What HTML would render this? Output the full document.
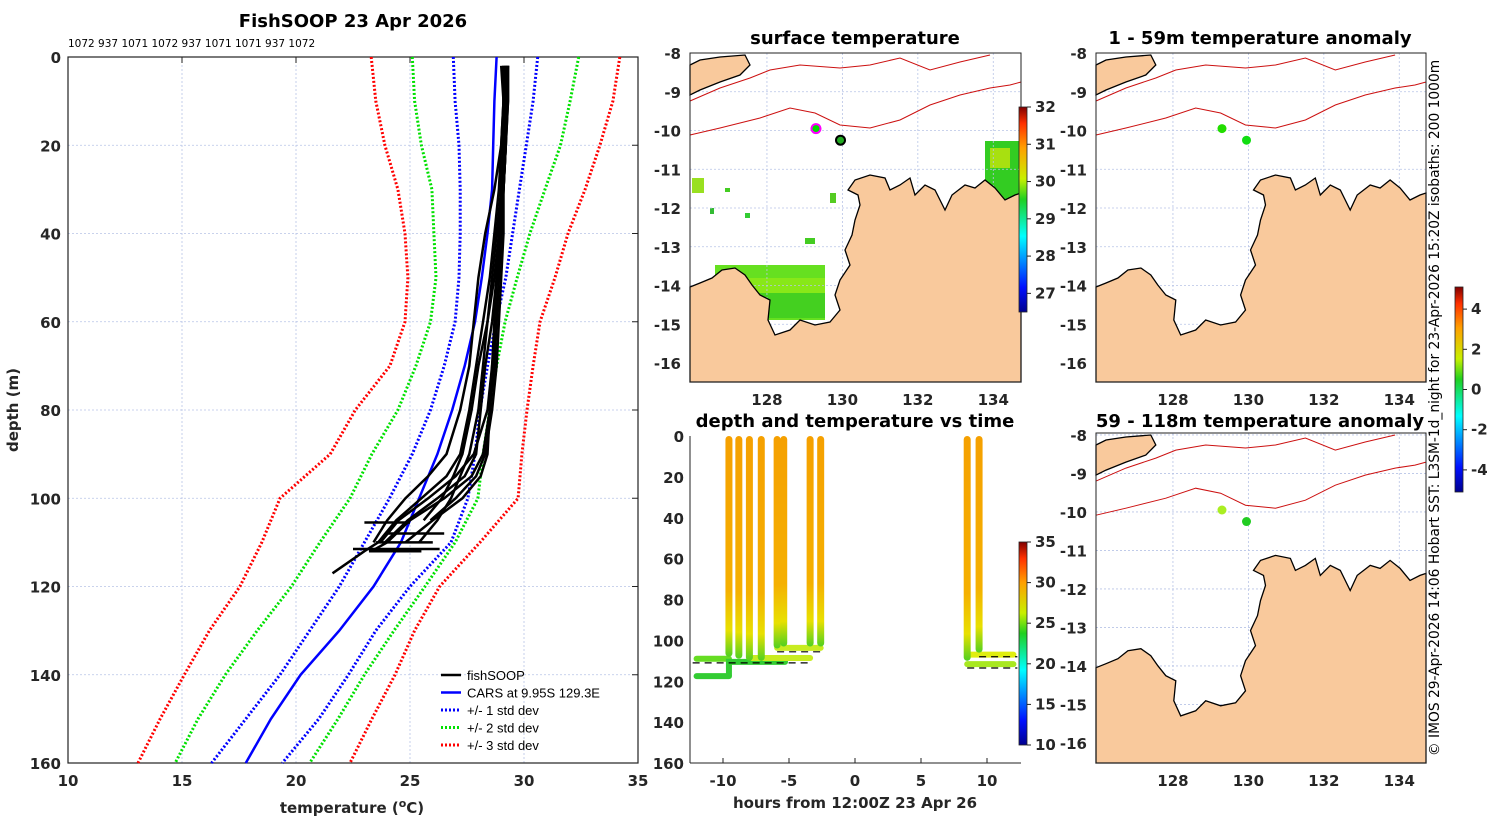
<!DOCTYPE html>
<html><head><meta charset="utf-8"><style>
html,body{margin:0;padding:0;background:#fff;}
svg{display:block;font-family:"DejaVu Sans","Liberation Sans",sans-serif;}
.tk{font-size:15px;font-weight:bold;fill:#262626;}
.ttl{font-size:18px;font-weight:bold;fill:#000;}
.grid{stroke:#b8c4e6;stroke-width:0.8;stroke-dasharray:2,2;}
</style></head><body>
<svg id="fig" width="1500" height="820" viewBox="0 0 1500 820" xmlns="http://www.w3.org/2000/svg">
<defs>
<linearGradient id="jet" x1="0" y1="1" x2="0" y2="0">
<stop offset="0" stop-color="#00008f"/><stop offset="0.12" stop-color="#0010ff"/><stop offset="0.37" stop-color="#00ffff"/><stop offset="0.55" stop-color="#20d020"/><stop offset="0.65" stop-color="#c8f000"/><stop offset="0.8" stop-color="#ffa000"/><stop offset="0.92" stop-color="#ff3000"/><stop offset="1" stop-color="#800000"/></linearGradient>
<linearGradient id="castgrad" x1="0" y1="0" x2="0" y2="1">
<stop offset="0" stop-color="#f5a000"/><stop offset="0.7" stop-color="#f5b000"/><stop offset="0.88" stop-color="#e8e000"/><stop offset="1" stop-color="#50d020"/></linearGradient>
</defs>
<g id="main"></g><g id="maps"></g><g id="timeplot"></g>
<text x="1439" y="408" transform="rotate(-90 1439 408)" text-anchor="middle" font-size="13.8" fill="#000">© IMOS 29-Apr-2026 14:06 Hobart SST: L3SM-1d_night for 23-Apr-2026 15:20Z isobaths: 200  1000m</text>
</svg>
<script>
const NS="http://www.w3.org/2000/svg";
function el(tag,attrs,parent,txt){const e=document.createElementNS(NS,tag);for(const k in attrs)e.setAttribute(k,attrs[k]);if(txt!==undefined)e.textContent=txt;parent.appendChild(e);return e;}

// ---------- main profile chart data ----------
const depthLevels=[0,10,20,30,40,50,60,70,80,90,100,110,120,130,140,150,160];
const carsMean=[28.8,28.7,28.65,28.6,28.4,28.15,27.85,27.4,26.85,26.2,25.4,24.6,23.4,21.9,20.2,18.9,17.8];
const carsLo1=[26.9,26.98,27.15,27.2,27.2,27.15,26.98,26.5,25.9,25.1,24.1,23.0,21.9,20.6,19.3,17.8,16.3];
const carsHi1=[30.6,30.4,30.1,29.8,29.5,29.2,28.77,28.4,28.07,27.85,27.54,26.8,25.0,23.5,22.3,21.0,19.4];
const carsLo2=[25.1,25.2,25.5,25.96,26.05,26.14,25.9,25.26,24.47,23.33,22.37,21.05,19.8,18.3,16.9,15.7,14.7];
const carsHi2=[32.4,32.02,31.6,30.92,30.26,29.7,29.17,28.8,28.5,28.2,27.98,26.98,25.66,24.3,23.0,21.84,20.6];
const carsLo3=[23.3,23.5,23.9,24.47,24.78,24.91,24.78,24.12,22.6,21.5,19.3,18.5,17.54,16.2,15.1,14.04,13.07];
const carsHi3=[34.2,33.9,33.33,32.68,31.93,31.36,30.7,30.4,30.13,29.91,29.74,28.07,26.3,25.2,24.34,23.33,22.37];
const profDepths=[2,10,20,30,40,50,60,70,80,90,95,100,105,110,112,117];
const prof1=[29.2,29.2,29.1,29.0,28.9,28.8,28.7,28.6,28.4,27.8,27.0,25.8,24.5,23.7];
const prof2=[29.3,29.3,29.2,29.1,29.0,28.9,28.8,28.7,28.5,28.2,27.7,26.5,25.0,24.0,23.3];
const prof3=[29.1,29.1,29.0,28.7,28.3,28.0,27.8,27.6,27.2,26.6,25.8,24.8,24.0,23.4];
const prof4=[29.2,29.2,29.2,29.1,28.9,28.7,28.4,28.0,27.7,27.3,26.9,26.4,25.6];
const prof5=[29.0,29.1,29.1,29.0,28.8,28.6,28.4,28.2,28.0,27.6,27.2,26.8,26.2,25.4];
const prof6=[29.3,29.3,29.2,29.1,29.0,28.9,28.8,28.6,28.5,28.4,28.1,27.3,26.0,24.8];
const prof7=[29.2,29.1,29.1,29.0,28.9,28.8,28.6,28.3,28.1,27.9,27.4,26.2,24.9,23.9];
const prof8=[29.3,29.2,29.2,29.1,29.1,29.0,28.9,28.8,28.6,28.3,27.9,27.0,25.9];
const prof9=[29.1,29.1,29.0,28.9,28.7,28.5,28.2,27.9,27.6,27.2,26.6,25.5,24.4,23.6,23.0,21.6];
const bottomDepth=[105.5,108,110,111.5,112];
const bottomT0=[23.0,24.0,23.5,22.5,23.2];
const bottomT1=[25.0,26.5,26.0,26.3,25.5];
const xTicksMain=[10,15,20,25,30,35];
const yTicksMain=[0,20,40,60,80,100,120,140,160];

const M={x0:68,x1:638,y0:57,y1:763,t0:10,t1:35,d0:0,d1:160};
const mx=t=>M.x0+(t-M.t0)/(M.t1-M.t0)*(M.x1-M.x0);
const my=d=>M.y0+(d-M.d0)/(M.d1-M.d0)*(M.y1-M.y0);
const g=document.getElementById('main');
let e;
e=el('text',{x:353,y:27,'text-anchor':'middle',class:'ttl'},g,'FishSOOP 23 Apr 2026');


e=el('text',{x:68,y:47,'font-size':'10.5'},g,'1072 937 1071 1072 937 1071 1071 937 1072');


xTicksMain.forEach(t=>{
  if(t>M.t0&&t<M.t1){el('line',{x1:mx(t),x2:mx(t),y1:M.y0,y2:M.y1,class:'grid'},g);}
  el('line',{x1:mx(t),x2:mx(t),y1:M.y0,y2:M.y0+6,stroke:'#222'},g);
  e=el('text',{x:mx(t),y:M.y1+23,'text-anchor':'middle',class:'tk','font-size':'16.5'},g,String(t));
  
  
});
yTicksMain.forEach(d=>{
  if(d>M.d0&&d<M.d1){el('line',{x1:M.x0,x2:M.x1,y1:my(d),y2:my(d),class:'grid'},g);}
  el('line',{x1:M.x1-6,x2:M.x1,y1:my(d),y2:my(d),stroke:'#222'},g);
  e=el('text',{x:M.x0-7,y:my(d)+6,'text-anchor':'end',class:'tk','font-size':'16.5'},g,String(d));
  
  
});
e=el('rect',{x:M.x0,y:M.y0,width:M.x1-M.x0,height:M.y1-M.y0,fill:'none',stroke:'#222','stroke-width':1.2},g);


e=el('text',{x:352,y:813,'text-anchor':'middle',class:'tk','font-size':'17.5'},g,'');
e.innerHTML='temperature (<tspan dy="-6" font-size="11">o</tspan><tspan dy="6">C)</tspan>';


e=el('text',{x:18,y:410,'text-anchor':'middle',class:'tk','font-size':'17.5',transform:'rotate(-90 18 410)'},g,'depth (m)');



function linePath(ts,ds){let p='';ts.forEach((t,i)=>{p+=(i?'L':'M')+mx(t).toFixed(1)+','+my(ds[i]).toFixed(1);});return p;}
const stdSeries=[[carsLo3,'red','cars-minus-3sd'],[carsHi3,'red','cars-plus-3sd'],[carsLo2,'#00e000','cars-minus-2sd'],[carsHi2,'#00e000','cars-plus-2sd'],[carsLo1,'#0000ff','cars-minus-1sd'],[carsHi1,'#0000ff','cars-plus-1sd']];
stdSeries.forEach(s=>{
  e=el('path',{d:linePath(s[0],depthLevels),fill:'none',stroke:s[1],'stroke-width':3,'stroke-dasharray':'2,2'},g);
  
  
});
e=el('path',{d:linePath(carsMean,depthLevels),fill:'none',stroke:'#0000ff','stroke-width':2.5},g);


[prof1,prof2,prof3,prof4,prof5,prof6,prof7,prof8,prof9].forEach(p=>{
  e=el('path',{d:linePath(p,profDepths.slice(0,p.length)),fill:'none',stroke:'#000','stroke-width':2.5},g);
  
  
});
bottomDepth.forEach((d,i)=>{
  e=el('line',{x1:mx(bottomT0[i]),x2:mx(bottomT1[i]),y1:my(d),y2:my(d),stroke:'#000','stroke-width':2.5},g);
  
  
});
const legItems=[['fishSOOP','#000',0],['CARS at 9.95S 129.3E','#0000ff',0],['+/- 1 std dev','#0000ff',1],['+/- 2 std dev','#00e000',1],['+/- 3 std dev','red',1]];
legItems.forEach((L,i)=>{
  const y=675+i*17.5;
  const a={x1:441,x2:461,y1:y,y2:y,stroke:L[1],'stroke-width':L[2]?3:2.5};
  if(L[2])a['stroke-dasharray']='2,2';
  el('line',a,g);
  e=el('text',{x:467,y:y+5,'font-size':'13','font-family':'Liberation Sans'},g,L[0]);
  
  
});

// ---------- maps ----------
const landPx=[[0,234],[10,230],[22,225],[32,217],[45,215],[55,222],[62,232],[70,242],[80,247],[78,267],[85,282],[100,277],[110,267],[125,272],[140,269],[150,257],[145,242],[150,227],[160,212],[155,197],[162,182],[165,167],[170,152],[168,142],[158,137],[165,127],[180,122],[195,125],[200,137],[210,132],[220,125],[225,142],[235,132],[245,137],[255,157],[262,142],[275,132],[285,135],[295,127],[305,135],[315,147],[325,142],[331,140],[331,329],[0,329]];
const timorPx=[[0,12],[10,7],[30,4],[55,2],[60,12],[50,22],[30,29],[10,37],[0,42]];
const iso200=[[0,82],[30,75],[70,65],[100,55],[125,60],[150,72],[180,75],[210,67],[240,52],[270,42],[300,35],[320,32],[331,29]];
const iso1000=[[0,48],[30,35],[60,25],[80,17],[110,12],[150,15],[180,12],[210,5],[240,17],[270,9],[300,2]];
const mapLonTicks=[128,130,132,134];
const mapLatTicks=[-8,-9,-10,-11,-12,-13,-14,-15,-16];
const maps=[
 {x:690,y:53,w:331,h:329,lat0:-8,dlat:38.75,name:'surface-temperature-map',title:'surface temperature',tx:855,ty:44,markers:[[129.3,-9.95,'#00dd00','#ff00ff'],[129.95,-10.25,'#22aa22','#000']]},
 {x:1096,y:53,w:330,h:329,lat0:-8,dlat:38.75,name:'anomaly-1-59m-map',title:'1 - 59m temperature anomaly',tx:1260,ty:44,markers:[[129.3,-9.95,'#22dd00',null],[129.95,-10.25,'#11dd11',null]]},
 {x:1096,y:433,w:330,h:330,lat0:-7.95,dlat:38.5,name:'anomaly-59-118m-map',title:'59 - 118m temperature anomaly',tx:1260,ty:427,markers:[[129.3,-9.95,'#aaee22',null],[129.95,-10.25,'#22cc22',null]]}
];
const gm=document.getElementById('maps');
maps.forEach((m,mi)=>{
  const lx=lon=>m.x+(lon-125.96)*37.72;
  const ly=lat=>m.y+(m.lat0-lat)*m.dlat;
  const sx=m.w/331, sy=m.h/329;
  const P=arr=>arr.map(p=>(m.x+p[0]*sx).toFixed(1)+','+(m.y+p[1]*sy).toFixed(1)).join(' ');
  const mg=el('g',{},gm);
  
  
  e=el('text',{x:m.tx,y:m.ty,'text-anchor':'middle',class:'ttl'},mg,m.title);
  
  
  if(mi===0){
    const sst=[[25,212,110,55,'#66e020'],[40,225,95,40,'#88e818'],[60,240,75,25,'#44d020'],[295,88,36,60,'#33cc22'],[300,95,20,20,'#a8e010'],[2,125,12,15,'#99e020'],[35,135,5,4,'#44cc22'],[115,185,10,6,'#44cc22'],[140,140,6,10,'#55cc22'],[240,150,10,8,'#33c833'],[20,155,4,6,'#33bb33'],[55,160,5,5,'#33cc33']];
    sst.forEach(r=>{e=el('rect',{x:m.x+r[0],y:m.y+r[1],width:r[2],height:r[3],fill:r[4]},mg);
      
      });
  }
  mapLonTicks.forEach(l=>{el('line',{x1:lx(l),x2:lx(l),y1:m.y,y2:m.y+m.h,class:'grid'},mg);
    e=el('text',{x:lx(l),y:m.y+m.h+23,'text-anchor':'middle',class:'tk','font-size':'16.5'},mg,String(l));
    
    });
  mapLatTicks.forEach(l=>{el('line',{x1:m.x,x2:m.x+m.w,y1:ly(l),y2:ly(l),class:'grid'},mg);
    e=el('text',{x:m.x-9,y:ly(l)+6,'text-anchor':'end',class:'tk','font-size':'16.5'},mg,String(l));
    
    });
  e=el('polygon',{points:P(landPx),fill:'#f9c99c',stroke:'#000','stroke-width':1.3},mg);
  
  
  e=el('polygon',{points:P(timorPx),fill:'#f9c99c',stroke:'#000','stroke-width':1.3},mg);
  
  
  e=el('polyline',{points:P(iso200),fill:'none',stroke:'#cc1010','stroke-width':1},mg);
  
  
  e=el('polyline',{points:P(iso1000),fill:'none',stroke:'#cc1010','stroke-width':1},mg);
  
  
  m.markers.forEach(k=>{
    e=el('circle',{cx:lx(k[0]),cy:ly(k[1]),r:4.5,fill:k[2],stroke:k[3]||'none','stroke-width':2},mg);
    
    
  });
  el('rect',{x:m.x,y:m.y,width:m.w,height:m.h,fill:'none',stroke:'#222','stroke-width':1},mg);
});
function colorbar(x,y0,y1,ticks,v0,v1,name){
  const cg=el('g',{},gm);
  
  
  el('rect',{x:x,y:y0,width:8,height:y1-y0,fill:'url(#jet)',stroke:'#222','stroke-width':0.8},cg);
  ticks.forEach(t=>{const y=y1-(t-v0)/(v1-v0)*(y1-y0);
    el('line',{x1:x+8,x2:x+12,y1:y,y2:y,stroke:'#222'},cg);
    e=el('text',{x:x+16,y:y+5,class:'tk','font-size':'13.5'},cg,String(t));
    
    });
}
colorbar(1019,107,312,[27,28,29,30,31,32],26.5,32,'sst-colorbar');
colorbar(1455,287,492,[-4,-2,0,2,4],-5.1,5.1,'anomaly-colorbar');

// ---------- depth/time plot ----------
const castHours=[-9.55,-8.8,-8.0,-7.1,-5.9,-5.4,-3.4,-2.6,8.5,9.4];
const castBottom=[108,109,110,110,104,103,103,103,110,106];
const segStart=[-12.0,-12.0,-9.5,-7.8,-5.9,8.5,8.5];
const segEnd=[-9.55,-9.55,-5.3,-3.4,-2.6,12.0,12.0];
const segDepth=[109,117.5,110.5,108.6,103.7,107,111.6];
const segColor=['#66dd22','#33cc33','#33cc33','#c8ec20','#c8ec20','#e0ee10','#a8e820'];
const dashStart=[-12.3,-5.9,9.4,8.5];
const dashEnd=[-3.5,-2.6,12.3,12.3];
const dashDepth=[111,105.6,108,113.5];
const xTicksTime=[-10,-5,0,5,10];
const yTicksTime=[0,20,40,60,80,100,120,140,160];
const T={x0:690,x1:1021,y0:436,y1:763};
const tx=h=>855+h*13.2;
const ty=d=>T.y0+d/160*(T.y1-T.y0);
const gt=document.getElementById('timeplot');
e=el('text',{x:855,y:427,'text-anchor':'middle',class:'ttl'},gt,'depth and temperature vs time');


segStart.forEach((s,i)=>{e=el('line',{x1:tx(s),x2:tx(segEnd[i]),y1:ty(segDepth[i]),y2:ty(segDepth[i]),stroke:segColor[i],'stroke-width':6,'stroke-linecap':'round'},gt);
  
  });
e=el('line',{x1:tx(castHours[0]),x2:tx(castHours[0]),y1:ty(segDepth[0]),y2:ty(segDepth[1]),stroke:'#33cc33','stroke-width':6},gt);
castHours.forEach((h,i)=>{e=el('rect',{x:tx(h)-3.5,y:ty(0),width:7,height:ty(castBottom[i])-ty(0),rx:3.5,fill:'url(#castgrad)'},gt);
  
  });
dashStart.forEach((s,i)=>{el('line',{x1:tx(s),x2:tx(dashEnd[i]),y1:ty(dashDepth[i]),y2:ty(dashDepth[i]),stroke:'#000','stroke-width':1.2,'stroke-dasharray':'7,5'},gt);});
el('line',{x1:T.x0,x2:T.x0,y1:T.y0,y2:T.y1,stroke:'#222'},gt);
el('line',{x1:T.x0,x2:T.x1,y1:T.y1,y2:T.y1,stroke:'#222'},gt);
xTicksTime.forEach(h=>{el('line',{x1:tx(h),x2:tx(h),y1:T.y1,y2:T.y1-5,stroke:'#222'},gt);
  e=el('text',{x:tx(h),y:T.y1+23,'text-anchor':'middle',class:'tk','font-size':'16.5'},gt,String(h));
  
  });
yTicksTime.forEach(d=>{e=el('text',{x:T.x0-6,y:ty(d)+6,'text-anchor':'end',class:'tk','font-size':'16.5'},gt,String(d));
  
  });
e=el('text',{x:855,y:808,'text-anchor':'middle',class:'tk','font-size':'17.5'},gt,'hours from 12:00Z 23 Apr 26');


colorbar(1019,542,745,[10,15,20,25,30,35],10,35,'time-temp-colorbar');
</script>
</body></html>
